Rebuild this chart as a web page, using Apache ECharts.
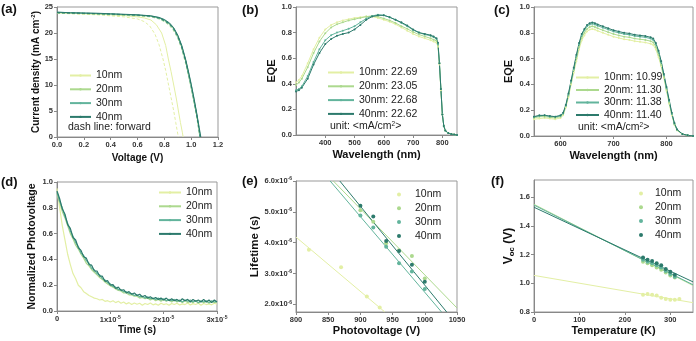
<!DOCTYPE html>
<html lang="en">
<head>
<meta charset="UTF-8">
<title>Perovskite device characterisation</title>
<script src="https://cdn.jsdelivr.net/npm/echarts@6/dist/echarts.min.js"></script>
</head>
<body style="margin:0;background:#fff">
<div id="main" style="width:696px;height:341px"></div>
<script>
// colours for the four thicknesses
var colors = ['#e3efa4', '#acd98e', '#62b49c', '#2c7a6c'];
var thick = ['10nm', '20nm', '30nm', '40nm'];

// (a) J-V curves [V, mA/cm2]; solid = reverse, dash = forward
var jv10 = [[0,23.9],[0.1,23.8],[0.2,23.7],[0.3,23.6],[0.4,23.5],[0.5,23.35],[0.6,23.1],[0.65,22.9],[0.7,22.5],[0.74,21.6],[0.78,20.0],[0.81,17.6],[0.83,15.0],[0.85,12.6],[0.87,10.0],[0.89,7.3],[0.905,5.0],[0.92,2.8],[0.935,0.8],[0.94,0]];
var jv10f = [[0,23.8],[0.1,23.7],[0.2,23.6],[0.3,23.5],[0.4,23.3],[0.5,23.1],[0.6,22.7],[0.65,22.2],[0.69,21.4],[0.73,19.8],[0.76,17.8],[0.79,15.0],[0.81,12.8],[0.83,10.2],[0.85,7.6],[0.87,5.0],[0.885,2.8],[0.9,0.6],[0.905,0]];
var jv20 = [[0,23.9],[0.1,23.8],[0.2,23.75],[0.3,23.7],[0.4,23.6],[0.5,23.5],[0.6,23.4],[0.7,23.2],[0.76,22.9],[0.8,22.4],[0.84,21.7],[0.87,20.8],[0.9,19.4],[0.93,17.3],[0.96,14.5],[0.98,12.2],[1.0,9.8],[1.02,7.2],[1.04,4.4],[1.055,2.0],[1.065,0]];
var jv30 = [[0,24.0],[0.1,23.9],[0.2,23.8],[0.3,23.75],[0.4,23.65],[0.5,23.55],[0.6,23.45],[0.7,23.25],[0.76,22.95],[0.8,22.5],[0.84,21.8],[0.87,20.9],[0.9,19.5],[0.93,17.5],[0.96,14.7],[0.98,12.4],[1.0,10.0],[1.02,7.4],[1.04,4.6],[1.06,1.5],[1.068,0]];
var jv40 = [[0,24.0],[0.1,23.9],[0.2,23.85],[0.3,23.8],[0.4,23.7],[0.5,23.6],[0.6,23.5],[0.7,23.3],[0.76,23.0],[0.8,22.6],[0.84,21.9],[0.87,21.0],[0.9,19.6],[0.93,17.6],[0.96,14.8],[0.98,12.6],[1.0,10.2],[1.02,7.6],[1.04,4.8],[1.06,1.8],[1.072,0]];
var jv20f = [[0,23.8],[0.2,23.7],[0.4,23.5],[0.6,23.3],[0.7,23.1],[0.76,22.7],[0.8,22.2],[0.84,21.4],[0.87,20.4],[0.9,19.0],[0.93,16.9],[0.96,14.0],[0.98,11.8],[1.0,9.3],[1.02,6.8],[1.04,4.0],[1.06,0.8],[1.063,0]];
var jv30f = [[0,23.9],[0.2,23.75],[0.4,23.6],[0.6,23.4],[0.7,23.2],[0.76,22.8],[0.8,22.3],[0.84,21.6],[0.87,20.6],[0.9,19.2],[0.93,17.1],[0.96,14.3],[0.98,12.0],[1.0,9.6],[1.02,7.0],[1.04,4.2],[1.06,1.0],[1.065,0]];
var jv40f = [[0,23.9],[0.2,23.8],[0.4,23.65],[0.6,23.45],[0.7,23.25],[0.76,22.9],[0.8,22.4],[0.84,21.7],[0.87,20.8],[0.9,19.4],[0.93,17.3],[0.96,14.5],[0.98,12.3],[1.0,9.9],[1.02,7.3],[1.04,4.5],[1.06,1.3],[1.068,0]];
var voltTicks = [0, 0.2, 0.4, 0.6, 0.8, 1.0, 1.2];
var jTicks = [0, 5, 10, 15, 20, 25];

// (b) EQE, full spectrum
var wlB = [300,310,320,340,360,380,400,420,440,460,480,500,520,540,560,580,600,620,640,660,680,700,720,740,760,770,780,785,790,795,800,805,810,820,830,840,850];
var eqeB10 = [0.41,0.43,0.46,0.56,0.67,0.76,0.825,0.86,0.88,0.895,0.905,0.915,0.92,0.925,0.925,0.915,0.90,0.885,0.865,0.84,0.815,0.79,0.77,0.755,0.74,0.73,0.72,0.69,0.55,0.35,0.16,0.07,0.035,0.015,0.008,0.003,0];
var eqeB20 = [0.39,0.41,0.44,0.53,0.64,0.73,0.795,0.84,0.865,0.88,0.895,0.905,0.915,0.925,0.93,0.925,0.91,0.895,0.875,0.85,0.83,0.805,0.785,0.77,0.755,0.745,0.735,0.70,0.56,0.36,0.16,0.07,0.035,0.015,0.008,0.003,0];
var eqeB30 = [0.35,0.36,0.38,0.46,0.57,0.67,0.74,0.78,0.80,0.815,0.83,0.85,0.88,0.91,0.93,0.94,0.935,0.92,0.90,0.875,0.85,0.82,0.80,0.785,0.775,0.765,0.75,0.71,0.56,0.36,0.16,0.07,0.035,0.015,0.008,0.003,0];
var eqeB40 = [0.34,0.35,0.37,0.44,0.55,0.64,0.71,0.75,0.775,0.79,0.80,0.825,0.86,0.90,0.925,0.935,0.935,0.92,0.90,0.88,0.855,0.825,0.80,0.79,0.78,0.77,0.755,0.72,0.56,0.36,0.16,0.07,0.035,0.015,0.008,0.003,0];
var jscB = ['22.69', '23.05', '22.68', '22.62'];
var wlTicksB = [400, 500, 600, 700, 800];
var eqeTicks = [0, 0.2, 0.4, 0.6, 0.8, 1.0];

// (c) EQE, narrow range
var wlC = [550,560,570,580,590,600,605,610,615,620,625,630,635,640,645,650,655,660,665,670,680,690,700,710,720,730,740,750,760,770,775,780,785,790,795,800,805,810,815,820,830,840,850];
var eqeC10 = [0.13,0.135,0.14,0.135,0.13,0.14,0.16,0.22,0.30,0.40,0.49,0.58,0.67,0.74,0.78,0.81,0.825,0.83,0.825,0.815,0.80,0.785,0.77,0.76,0.75,0.745,0.735,0.73,0.725,0.715,0.705,0.67,0.61,0.54,0.45,0.35,0.25,0.16,0.09,0.045,0.015,0.005,0];
var eqeC20 = [0.14,0.15,0.15,0.145,0.14,0.15,0.17,0.23,0.31,0.41,0.51,0.60,0.69,0.76,0.80,0.83,0.845,0.85,0.845,0.835,0.82,0.805,0.79,0.78,0.77,0.765,0.755,0.75,0.745,0.735,0.725,0.69,0.63,0.55,0.46,0.36,0.26,0.17,0.09,0.045,0.015,0.005,0];
var eqeC30 = [0.15,0.155,0.16,0.15,0.15,0.155,0.175,0.235,0.32,0.42,0.52,0.62,0.71,0.78,0.82,0.85,0.865,0.87,0.865,0.855,0.84,0.825,0.81,0.80,0.79,0.785,0.775,0.77,0.765,0.755,0.745,0.71,0.65,0.57,0.47,0.37,0.27,0.17,0.095,0.05,0.015,0.005,0];
var eqeC40 = [0.15,0.16,0.16,0.155,0.15,0.16,0.18,0.24,0.33,0.43,0.53,0.63,0.72,0.79,0.83,0.86,0.875,0.88,0.875,0.865,0.85,0.835,0.82,0.81,0.80,0.795,0.785,0.78,0.775,0.765,0.755,0.72,0.66,0.58,0.48,0.38,0.28,0.18,0.10,0.05,0.015,0.005,0];
var jscC = ['10.99', '11.30', '11.38', '11.40'];
var wlTicksC = [600, 700, 800];

// (d) transient photovoltage, time in microseconds
var tpvTime = [0,0.5,1,1.5,2,2.5,3,3.5,4,4.5,5,5.5,6,6.5,7,7.5,8,8.5,9,9.5,10,10.5,11,11.5,12,12.5,13,13.5,14,14.5,15,15.5,16,16.5,17,17.5,18,18.5,19,19.5,20,20.5,21,21.5,22,22.5,23,23.5,24,24.5,25,25.5,26,26.5,27,27.5,28,28.5,29,29.5,30];
var tpv10 = [0.95,0.80,0.66,0.55,0.44,0.36,0.29,0.25,0.20,0.18,0.15,0.135,0.12,0.11,0.10,0.095,0.085,0.09,0.075,0.08,0.07,0.08,0.065,0.075,0.06,0.07,0.055,0.065,0.05,0.062,0.052,0.06,0.045,0.058,0.05,0.062,0.048,0.055,0.045,0.06,0.05,0.056,0.044,0.058,0.05,0.06,0.047,0.055,0.05,0.062,0.046,0.057,0.05,0.06,0.045,0.058,0.05,0.055,0.048,0.06,0.052];
var tpv20 = [0.91,0.84,0.77,0.72,0.66,0.60,0.56,0.51,0.48,0.44,0.41,0.37,0.35,0.32,0.30,0.28,0.26,0.245,0.225,0.21,0.195,0.185,0.17,0.16,0.155,0.14,0.14,0.125,0.125,0.115,0.115,0.10,0.105,0.095,0.10,0.085,0.095,0.08,0.09,0.075,0.09,0.075,0.085,0.07,0.085,0.07,0.08,0.065,0.08,0.065,0.075,0.065,0.08,0.06,0.075,0.065,0.075,0.06,0.075,0.065,0.07];
var tpv30 = [0.92,0.85,0.80,0.73,0.68,0.62,0.58,0.53,0.50,0.45,0.43,0.39,0.37,0.33,0.32,0.29,0.28,0.25,0.24,0.22,0.21,0.19,0.185,0.165,0.165,0.15,0.15,0.135,0.135,0.12,0.125,0.11,0.115,0.10,0.11,0.095,0.10,0.09,0.10,0.085,0.095,0.08,0.09,0.08,0.09,0.075,0.085,0.07,0.085,0.075,0.085,0.07,0.08,0.065,0.08,0.07,0.08,0.065,0.08,0.07,0.075];
var tpv40 = [0.93,0.87,0.79,0.75,0.67,0.64,0.57,0.55,0.49,0.47,0.42,0.41,0.36,0.355,0.31,0.31,0.27,0.27,0.23,0.235,0.20,0.205,0.175,0.185,0.16,0.165,0.14,0.15,0.13,0.14,0.12,0.13,0.11,0.12,0.10,0.11,0.095,0.105,0.09,0.10,0.085,0.10,0.08,0.095,0.08,0.09,0.075,0.095,0.08,0.09,0.07,0.09,0.075,0.085,0.07,0.09,0.07,0.085,0.065,0.085,0.07];
var timeTicks = [0, 10, 20, 30];
var normTicks = [0, 0.2, 0.4, 0.6, 0.8, 1.0];

// (e) lifetime (x1e-6 s) vs photovoltage, points and linear fits
var life10 = [[820,3.77],[870,3.2],[910,2.25],[930,1.9]];
var life20 = [[900,5.05],[920,4.68],[940,3.98],[960,3.75],[980,3.57],[1000,2.84]];
var life30 = [[900,4.88],[920,4.49],[940,3.87],[960,3.33],[980,3.06],[1000,2.5]];
var life40 = [[900,5.2],[920,4.85],[940,4.05],[960,3.73],[980,3.28],[1000,2.73]];
var fitE10 = [[800,4.18],[938,1.75]];
var fitE20 = [[858,6.0],[1050,1.88]];
var fitE30 = [[853,6.0],[1026,1.75]];
var fitE40 = [[868,6.0],[1034,1.75]];
var pvTicks = [800, 850, 900, 950, 1000, 1050];
var lifeTicks = [2, 3, 4, 5, 6];

// (f) Voc vs temperature, points and linear fits
var voc10 = [[240,0.92],[250,0.925],[260,0.92],[270,0.915],[280,0.9],[290,0.89],[300,0.885],[310,0.885],[320,0.89]];
var voc20 = [[240,1.15],[250,1.14],[260,1.125],[270,1.11],[280,1.095],[290,1.075],[300,1.055],[310,1.04]];
var voc30 = [[240,1.165],[250,1.15],[260,1.14],[270,1.125],[280,1.11],[290,1.085],[300,1.065],[310,1.045]];
var voc40 = [[240,1.18],[250,1.165],[260,1.155],[270,1.14],[280,1.125],[290,1.1],[300,1.08],[310,1.06]];
var fitF10 = [[0,1.055],[350,0.865]];
var fitF20 = [[0,1.55],[350,0.985]];
var fitF30 = [[0,1.545],[350,0.99]];
var fitF40 = [[0,1.53],[350,1.01]];
var tempTicks = [0, 100, 200, 300];
var vocTicks = [0.8, 1.0, 1.2, 1.4, 1.6];

var FONT = '"Liberation Sans", Arial, sans-serif';
var myChart = echarts.init(document.getElementById('main'), null, {renderer: 'canvas'});

function zip(xs, ys) {
    return xs.map(function (x, i) { return [x, ys[i]]; });
}

var labelRich = {
    n: {fontSize: 7.5, fontWeight: 'bold', color: '#333', fontFamily: FONT},
    s: {fontSize: 5, fontWeight: 'bold', color: '#333', fontFamily: FONT, verticalAlign: 'top', padding: [0, 0, 4, 0]}
};

function axis(gi, min, max, ticks, fmt, name, gap, nsize) {
    return {
        type: 'value', gridIndex: gi, min: min, max: max,
        axisLine: {show: true, onZero: false, lineStyle: {color: '#888', width: 1}},
        axisTick: {show: true, customValues: ticks, length: 3, lineStyle: {color: '#888'}},
        axisLabel: {customValues: ticks, formatter: fmt, fontSize: 7.5, fontWeight: 'bold',
            color: '#333', fontFamily: FONT, margin: 4, rich: labelRich},
        splitLine: {show: false},
        name: name, nameLocation: 'middle', nameGap: gap,
        nameTextStyle: {fontSize: nsize, fontWeight: 'bold', color: '#111', fontFamily: FONT,
            rich: {
                t: {fontSize: nsize, fontWeight: 'bold', color: '#111', fontFamily: FONT},
                sup: {fontSize: nsize * 0.6, fontWeight: 'bold', color: '#111', fontFamily: FONT, verticalAlign: 'top', padding: [0, 0, 5, 0]},
                sub: {fontSize: nsize * 0.65, fontWeight: 'bold', color: '#111', fontFamily: FONT, verticalAlign: 'bottom', padding: [5, 0, 0, 0]}
            }}
    };
}

function fix1(v) { return v.toFixed(1); }
function plain(v) { return String(v); }

function line(name, gi, data, color, opts) {
    opts = opts || {};
    return {
        type: 'line', name: name, xAxisIndex: gi, yAxisIndex: gi, data: data,
        symbol: 'circle', symbolSize: opts.symbolSize || 2, showSymbol: !!opts.showSymbol,
        lineStyle: {color: color, width: opts.width || 1, type: opts.dash ? [3, 2] : 'solid'},
        itemStyle: {color: color}, silent: true, animation: false, z: opts.z || 2
    };
}

function dots(name, gi, data, color) {
    return {
        type: 'scatter', name: name, xAxisIndex: gi, yAxisIndex: gi, data: data,
        symbol: 'circle', symbolSize: 4, itemStyle: {color: color, opacity: 1},
        silent: true, animation: false, z: 4
    };
}

function legend(prefix, names, left, top, iw, ih, gap) {
    return {
        orient: 'vertical', left: left, top: top, padding: 0,
        itemWidth: iw, itemHeight: ih, itemGap: gap, selectedMode: false,
        data: names.map(function (n) { return prefix + n; }),
        formatter: function (n) { return n.slice(2); },
        textStyle: {fontSize: 10.5, color: '#222', fontFamily: FONT}
    };
}

function grid(l, t, w, h) {
    return {left: l, top: t, width: w, height: h, show: true, borderColor: '#999', borderWidth: 1,
        backgroundColor: 'transparent', outerBoundsMode: 'none'};
}

var bNames = thick.map(function (t, i) { return t + ': ' + jscB[i]; });
var cNames = thick.map(function (t, i) { return t + ': ' + jscC[i]; });

var series = [];
// (a)
series.push(line('a|10nm f', 0, jv10f, colors[0], {dash: true}));
series.push(line('a|10nm', 0, jv10, colors[0]));
series.push(line('a|20nm f', 0, jv20f, colors[1], {dash: true}));
series.push(line('a|20nm', 0, jv20, colors[1]));
series.push(line('a|30nm f', 0, jv30f, colors[2], {dash: true}));
series.push(line('a|30nm', 0, jv30, colors[2]));
series.push(line('a|40nm f', 0, jv40f, colors[3], {dash: true}));
series.push(line('a|40nm', 0, jv40, colors[3]));
// (b)
[eqeB10, eqeB20, eqeB30, eqeB40].forEach(function (v, i) {
    series.push(line('b|' + bNames[i], 1, zip(wlB, v), colors[i], {showSymbol: true}));
});
// (c)
[eqeC10, eqeC20, eqeC30, eqeC40].forEach(function (v, i) {
    series.push(line('c|' + cNames[i], 2, zip(wlC, v), colors[i], {showSymbol: true}));
});
// (d)
[tpv10, tpv20, tpv30, tpv40].forEach(function (v, i) {
    series.push(line('d|' + thick[i], 3, zip(tpvTime, v), colors[i], {width: 1.2}));
});
// (e)
[fitE10, fitE20, fitE30, fitE40].forEach(function (v, i) {
    series.push(line('e|fit' + i, 4, v, colors[i]));
});
[life10, life20, life30, life40].forEach(function (v, i) {
    series.push(dots('e|' + thick[i], 4, v, colors[i]));
});
// (f)
[fitF10, fitF20, fitF30, fitF40].forEach(function (v, i) {
    series.push(line('f|fit' + i, 5, v, colors[i]));
});
[voc10, voc20, voc30, voc40].forEach(function (v, i) {
    series.push(dots('f|' + thick[i], 5, v, colors[i]));
});

function panelLabel(txt, x, y) {
    return {type: 'text', x: x, y: y, silent: true,
        style: {text: txt, fontSize: 13, fontWeight: 'bold', fontFamily: FONT, fill: '#111', verticalAlign: 'middle'}};
}
function note(txt, x, y) {
    return {type: 'text', x: x, y: y, silent: true,
        style: {text: txt, fontSize: 10.5, fontFamily: FONT, fill: '#222', verticalAlign: 'middle',
            rich: {t: {fontSize: 10.5, fontFamily: FONT, fill: '#222'},
                   s: {fontSize: 6.5, fontFamily: FONT, fill: '#222', verticalAlign: 'top', padding: [0, 0, 4, 0]}}}};
}

myChart.setOption({
    backgroundColor: '#fff',
    animation: false,
    grid: [
        grid(57, 7, 161, 130),
        grid(296, 7, 161, 128),
        grid(534, 7, 159, 129),
        grid(57, 182, 160, 129),
        grid(296, 181, 161, 131),
        grid(534, 180, 159, 132)
    ],
    xAxis: [
        axis(0, 0, 1.2, voltTicks, fix1, 'Voltage (V)', 16, 10),
        axis(1, 300, 850, wlTicksB, plain, 'Wavelength (nm)', 14, 11),
        axis(2, 550, 850, wlTicksC, plain, 'Wavelength (nm)', 14, 11),
        axis(3, 0, 30, timeTicks, function (v) { return v === 0 ? '0' : '{n|' + (v / 10) + 'x10}{s|-5}'; }, 'Time (s)', 14, 10),
        axis(4, 800, 1050, pvTicks, plain, 'Photovoltage (V)', 13, 11),
        axis(5, 0, 350, tempTicks, plain, 'Temperature (K)', 13, 11)
    ],
    yAxis: [
        axis(0, 0, 25, jTicks, plain, '{t|Current density (mA cm}{sup|-2}{t|)}', 15, 10),
        axis(1, 0, 1, eqeTicks, fix1, 'EQE', 13, 11),
        axis(2, 0, 1, eqeTicks, fix1, 'EQE', 20, 11),
        axis(3, 0, 1, normTicks, fix1, 'Normalized Photovoltage', 19, 10.5),
        axis(4, 1.75, 6, lifeTicks, function (v) { return '{n|' + v.toFixed(1) + 'x10}{s|-6}'; }, 'Lifetime (s)', 30, 11.5),
        axis(5, 0.8, 1.72, vocTicks, fix1, '{t|V}{sub|oc}{t| (V)}', 16, 12)
    ],
    legend: [
        legend('a|', thick, 69, 70, 21, 3, 2.8),
        legend('b|', bNames, 327, 67, 26, 3, 2.8),
        legend('c|', cNames, 575, 72, 23, 3, 1.5),
        legend('d|', thick, 158, 187, 22, 3, 2.8),
        legend('e|', thick, 397, 189, 22, 4, 2.8),
        legend('f|', thick, 639, 188, 18, 4, 2.8)
    ],
    graphic: [
        panelLabel('(a)', 1, 9),
        panelLabel('(b)', 242, 10),
        panelLabel('(c)', 494, 10),
        panelLabel('(d)', 1, 182),
        panelLabel('(e)', 242, 181),
        panelLabel('(f)', 491, 181),
        note('dash line: forward', 68, 127),
        note('{t|unit: <mA/cm}{s|2}{t|>}', 330, 126),
        note('{t|unit: <mA/cm}{s|2}{t|>}', 578, 127)
    ],
    series: series
});
</script>
</body>
</html>
